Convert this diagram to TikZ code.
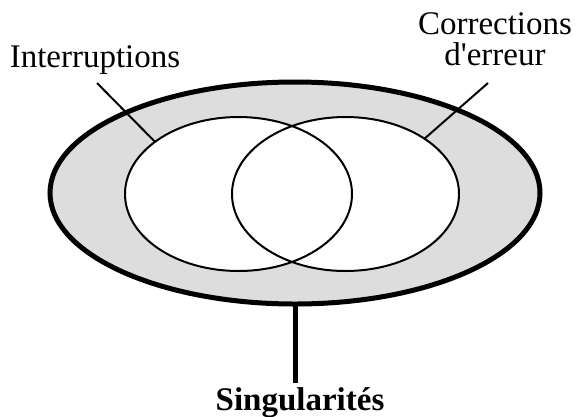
\documentclass[tikz,border=0pt]{standalone}
\usepackage{fontspec}
\setmainfont{Liberation Serif}
\usetikzlibrary{shapes.geometric}
\definecolor{ringgray}{HTML}{DDDDDD}

\begin{document}
\begin{tikzpicture}[x=1pt,y=-1pt,
    lbl/.style={font=\fontsize{33}{31}\selectfont,inner sep=0pt,align=center},
    venn/.style={ellipse,minimum width=227pt,minimum height=154pt,inner sep=0pt,outer sep=0pt}]
    \useasboundingbox (0,0) rectangle (578,416);
    \node[ellipse,draw,line width=5pt,fill=ringgray,minimum width=490pt,minimum height=222pt,inner sep=0pt,outer sep=0pt] (outer) at (295,193) {};
    \node[venn,fill=white] (interfill) at (238.5,194) {};
    \node[venn,fill=white] (corrfill) at (345.5,194) {};
    \node[venn,draw,line width=2pt] (inter) at (238.5,194) {};
    \node[venn,draw,line width=2pt] (corr) at (345.5,194) {};

    \node[lbl,anchor=base] (interlbl) at (95,67) {Interruptions};
    \node[lbl,anchor=north] (corrlbl) at (495,12) {Corrections\\d\textquotesingle erreur};
    \node[lbl,font=\fontsize{33}{31}\selectfont\bfseries,anchor=base,inner sep=4pt] (singlbl) at (300,410) {Singularités};

    \coordinate (interend) at (97,83);
    \coordinate (corrend) at (488,83);
    \draw[line width=2pt] (interend) -- (inter.148);
    \draw[line width=2pt] (corrend) -- (corr.35);
    \draw[line width=5pt] (outer.south) -- (outer.south |- singlbl.north);
\end{tikzpicture}
\end{document}
